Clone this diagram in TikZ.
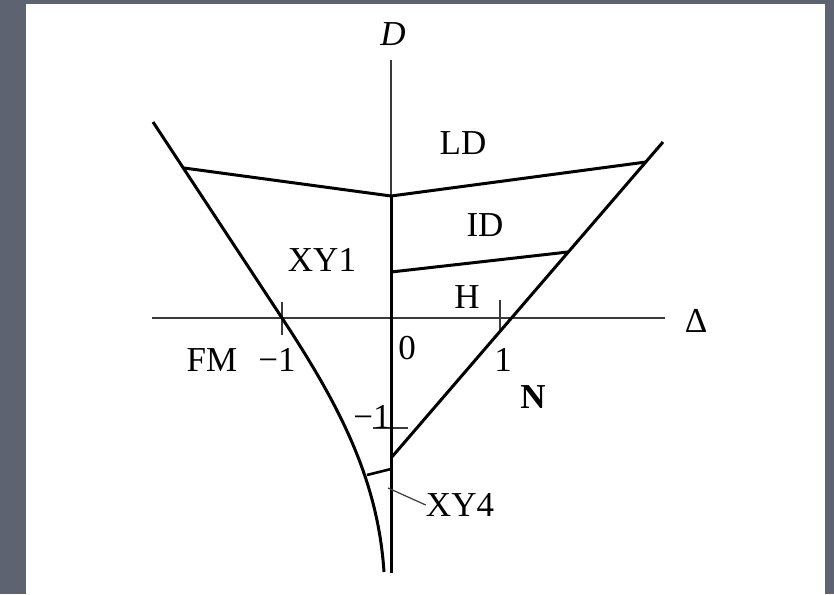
\documentclass[tikz,border=0pt]{standalone}
\usepackage{fontspec}
\setmainfont{Liberation Serif}
\usepackage{tikz}
\definecolor{SlideGrey}{HTML}{5E6372}
\definecolor{AxisGrey}{HTML}{3A3A3A}

\begin{document}
\begin{tikzpicture}[x=1pt,y=-1pt,font=\fontsize{35}{40}\selectfont,
  axis/.style={draw=AxisGrey,line width=1.4pt},
  bound/.style={draw=black,line width=3pt,line join=round},
  tick/.style={draw=AxisGrey,line width=1.2pt},
  lab/.style={inner sep=0pt,anchor=center}]
  % background and page
  \fill[SlideGrey] (0,0) rectangle (834,594);
  \fill[white] (26,4) rectangle (825,594);
  \useasboundingbox (0,0) rectangle (834,594);
  % points of the diagram
  \coordinate (o) at (391,318);
  \coordinate (dtop) at (391,60);
  \coordinate (dbot) at (391,573);
  \coordinate (xl) at (152,318);
  \coordinate (xr) at (665,318);
  \coordinate (lt) at (153,122);
  \coordinate (lx) at (282,318);
  \coordinate (lb) at (384,572);
  \coordinate (rt) at (663,142);
  \coordinate (rb) at (391,458);
  \coordinate (ldl) at (184,168);
  \coordinate (ldc) at (391,196);
  \coordinate (ldr) at (646,162);
  \coordinate (idc) at (391,272);
  \coordinate (idr) at (568,252);
  \coordinate (y4l) at (367,475);
  \coordinate (y4r) at (391,469);
  % axes
  \draw[axis] (xl) -- (xr);
  \draw[axis] (dtop) -- (ldc);
  \node[lab] (dlab) at (393,34) {\textit{D}};
  \node[lab] (xlab) at (696,321) {Δ};
  % ticks
  \draw[tick] (282,302) -- (282,335);
  \draw[tick] (500,300) -- (500,330);
  \draw[tick] (373,428) -- (408,428);
  % phase boundaries
  \draw[bound] (ldc) -- (dbot);
  \draw[bound] (lt) -- (lx) .. controls (340,406) and (378,480) .. (lb);
  \draw[bound] (rt) -- (rb);
  \draw[bound] (ldl) -- (ldc) -- (ldr);
  \draw[bound] (idc) -- (idr);
  \draw[bound,line width=2.6pt] (y4l) -- (y4r);
  % region names
  \node[lab] (ld) at (463,143) {LD};
  \node[lab] (id) at (485,225) {ID};
  \node[lab] (h) at (467,297) {H};
  \node[lab] (xy1) at (322,260) {XY1};
  \node[lab] (fm) at (212,360) {FM};
  \node[lab] (n) at (533,397) {\textbf{N}};
  \node[lab] (xy4) at (460,505) {XY4};
  \draw[tick] (388,488) -- (xy4.west);
  % numbers
  \node[lab] (mone) at (277,360) {−1};
  \node[lab] (zero) at (407,348) {0};
  \node[lab] (one) at (503,360) {1};
  \node[lab] (monev) at (372,417) {−1};
\end{tikzpicture}
\end{document}
